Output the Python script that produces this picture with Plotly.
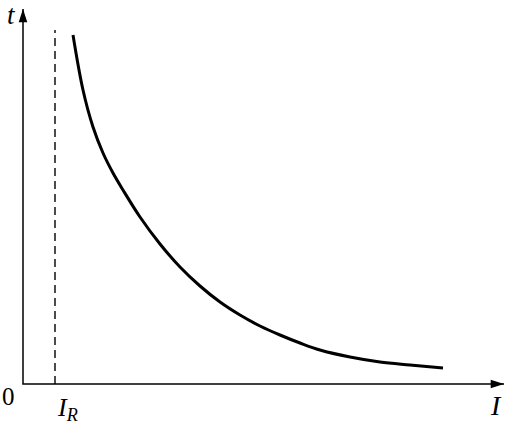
import plotly.graph_objects as go

# curve t(I) (origin at the axis crossing)
curve_I = [50, 60, 70, 80, 90, 100, 117, 137, 157, 177, 197, 217, 237, 257, 277, 297, 327, 357, 387, 420]
curve_t = [349, 294, 257, 231, 211, 194, 167, 140, 117, 98, 82, 69, 58, 49, 41, 34, 27, 22, 19, 16]

I_R = 32
dash_top = 354
x_end = 487
y_end = 381

fig = go.Figure()

# the t-I curve
fig.add_trace(go.Scatter(x=curve_I, y=curve_t, mode='lines',
                         line=dict(color='black', width=3, shape='spline', smoothing=1),
                         hoverinfo='skip'))

# dashed asymptote at I_R
fig.add_trace(go.Scatter(x=[I_R, I_R], y=[0, dash_top], mode='lines',
                         line=dict(color='black', width=1.4, dash='8px,5px'),
                         hoverinfo='skip'))

# axes
fig.add_trace(go.Scatter(x=[x_end - 6, 0, 0], y=[0, 0, y_end - 6], mode='lines',
                         line=dict(color='black', width=1.5), hoverinfo='skip'))
fig.add_trace(go.Scatter(x=[x_end - 6], y=[0], mode='markers',
                         marker=dict(symbol='arrow', angle=90, size=14, color='black'),
                         hoverinfo='skip'))
fig.add_trace(go.Scatter(x=[0], y=[y_end - 6], mode='markers',
                         marker=dict(symbol='arrow', angle=0, size=14, color='black'),
                         hoverinfo='skip'))

serif = 'Liberation Serif, Times New Roman, serif'
fig.add_annotation(x=-12, y=369, text='<i>t</i>', showarrow=False,
                   font=dict(family=serif, size=27, color='black'))
fig.add_annotation(x=-15, y=-12, text='0', showarrow=False,
                   font=dict(family=serif, size=25, color='black'))
fig.add_annotation(x=44, y=-25, text='<i>I</i><sub><i>R</i></sub>', showarrow=False,
                   font=dict(family=serif, size=26, color='black'))
fig.add_annotation(x=473, y=-21, text='<i>I</i>', showarrow=False,
                   font=dict(family=serif, size=28, color='black'))

fig.update_layout(
    width=512, height=428,
    margin=dict(l=0, r=0, t=0, b=0),
    plot_bgcolor='white', paper_bgcolor='white',
    showlegend=False,
    xaxis=dict(range=[-23, 489], visible=False, fixedrange=True),
    yaxis=dict(range=[-44, 384], visible=False, fixedrange=True),
)

fig.write_html("out.html", config={'displayModeBar': False},
               post_script="document.body.style.margin='0';document.body.style.overflow='hidden';")
